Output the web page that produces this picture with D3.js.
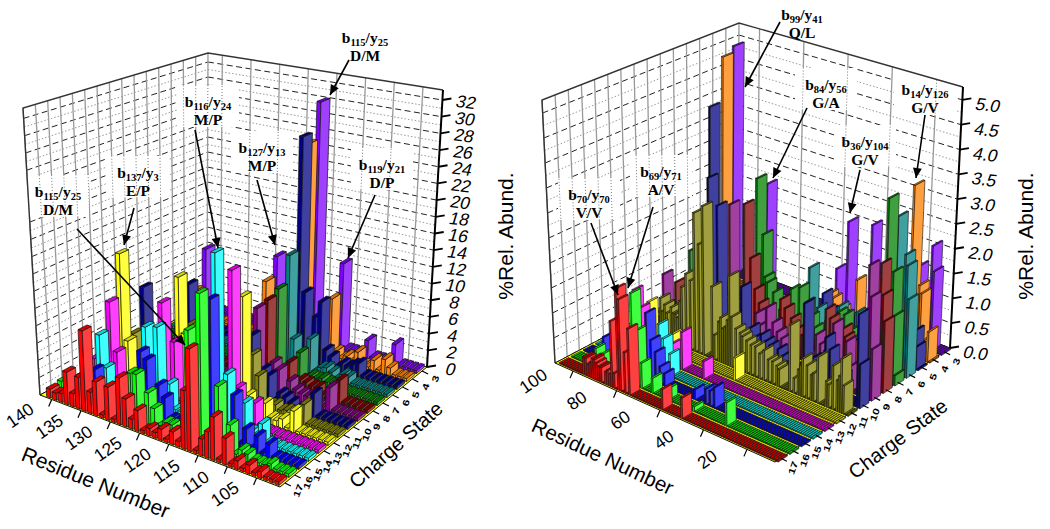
<!DOCTYPE html>
<html>
<head>
<meta charset="utf-8">
<style>
  html, body { margin: 0; padding: 0; background: #fff; }
  svg { display: block; }
</style>
<script src="https://cdn.jsdelivr.net/npm/d3@7"></script>
</head>
<body>
<svg id="chart" width="1050" height="529"></svg>
<script>
// charge states, front row first
var chargeStates = [17,16,15,14,13,12,11,10,9,8,7,6,5,4,3];
var rowColors = ["#ff0000","#00ff00","#0000ff","#00ffff","#ff00ff","#ffff00","#808000","#000080","#800080","#800000","#008000","#008080","#000080","#ff8000","#8000ff"];

//----------left chart values, [residue, %abund], everything else sits at the low baseline
var leftZ17 = [[141,1],[140,.8],[139,1],[138,3.7],[137,1.5],[136,3.6],[135,9.1],[134,2.4],[133,3.8],[131,3.7],[129,5.2],[128,3.1],[127,1.1],[126,2.3],[124,.8],[123,.6],[122,1.2],[120,1.4],[119,.6],[118,6.3],[117,11],[115,1.8],[114,2.8],[113,4.6],[111,2.8],[109,.9],[107,.9],[105,.7]];
var leftZ16 = [[141,1.2],[129,5],[128,5.1],[126,3.5],[125,2],[123,.9],[122,.9],[121,.6],[119,11.9],[117,16.3],[114,6.9],[112,3.2],[110,1],[109,.8],[105,.7]];
var leftZ15 = [[137,2.8],[129,6.7],[128,6],[126,3.6],[125,2.4],[117,15],[113,5.4],[111,2.2],[109,1.9],[107,1.5]];
var leftZ14 = [[138,5.9],[137,2.3],[130,8.6],[128,9],[126,3],[118,19.3],[116,6.3],[113,3.8],[112,.9],[111,.7],[110,2.2]];
var leftZ13 = [[141,1.7],[138,9.1],[137,3.4],[129,10.9],[127,6.8],[117,16.9],[116,4],[115,1.1],[114,.7],[113,3],[112,.8]];
var leftZ12 = [[138,14.2],[137,4],[128,13.4],[127,7],[117,13.3],[116,2.4],[115,.9],[114,1],[113,2.2],[112,.8],[111,.7],[110,1.1],[108,2.4]];
var leftZ11 = [[138,3.9],[128,7.1],[117,6],[116,3.8],[114,1],[113,1.2],[112,.8],[111,1],[108,2.3]];
var leftZ10 = [[138,8.8],[130,10.8],[119,7],[117,3.5],[116,3],[114,1.4],[113,1.2],[112,.8],[108,2.7]];
var leftZ9 = [[120,9.2],[117,3.5],[116,2.9],[114,2],[113,1.2],[112,1],[111,.9],[107,2.7]];
var leftZ8 = [[120,9.4],[116,2.9],[114,1.3],[113,1.2],[112,1],[111,1],[107,2.7]];
var leftZ7 = [[120,10],[116,3.2],[114,.9],[113,.8],[112,1],[111,.8],[110,.8]];
var leftZ6 = [[120,13.3],[119,3.4],[116,4],[114,1],[113,1.2],[112,.9],[110,1],[109,.9]];
var leftZ5 = [[120,27],[119,8.2],[117,5.6],[116,7.6],[115,2],[114,1.4],[112,1],[111,.9],[110,1.3],[109,1.6]];
var leftZ4 = [[141,3.3],[128,7.1],[121,25.4],[116,7.2],[115,1],[113,.8],[111,1.7],[108,1.3],[106,1.8],[105,1]];
var leftZ3 = [[141,8],[128,9.5],[121,30],[116,10.7],[111,2.2],[106,2.7]];
var leftRows = [leftZ17,leftZ16,leftZ15,leftZ14,leftZ13,leftZ12,leftZ11,leftZ10,leftZ9,leftZ8,leftZ7,leftZ6,leftZ5,leftZ4,leftZ3];
var leftResidues = d3.range(141, 101, -1);
var leftResidueTicks = [140,135,130,125,120,115,110,105];
var leftAbundTicks = d3.range(0, 33, 2);

//----------right chart values
var rightZ17 = [[97,.35],[96,.35],[95,.25],[94,.3],[93,.4],[92,.4],[91,.35],[90,.3],[89,.3],[87,.25],[86,.3],[85,.25],[84,1.3],[83,.3],[81,2],[80,1.8],[78,.8],[76,1.3],[61,.4],[52,.4]];
var rightZ16 = [[97,.4],[95,.3],[80,1.8],[78,1.1],[76,.5],[71,.3],[64,.22],[52,.1],[37,.45]];
var rightZ15 = [[99,.45],[79,1.3],[77,.8],[75,.6],[73,.35],[71,.25],[57,.2],[52,.3],[50,.3],[48,.4]];
var rightZ14 = [[79,.95],[77,.7],[74,.45]];
var rightZ13 = [[96,1.2],[93,.9],[79,.42],[74,.75],[64,.35]];
var rightZ12 = [[95,.85],[84,.4],[55,.45]];
var rightZ11 = [[95,.8],[94,.55],[93,.7],[92,.55],[90,.7],[89,.6],[88,.6],[87,.55],[86,.9],[85,1.2],[83,1.5],[81,1.4],[79,2.8],[77,2.2],[75,3],[71,1.45],[70,.5],[68,.8],[67,.9],[66,.7],[65,.75],[64,.9],[63,1.8],[62,1],[60,.8],[58,.75],[57,.7],[55,.65],[53,.6],[51,.6],[49,.5],[47,.6],[45,.45],[43,.45],[41,.4],[40,.35],[35,1.3],[33,.3],[31,.5],[30,.6],[29,.75],[27,.65],[25,.5],[24,.55],[22,.9],[18,.5],[17,.45],[15,.85],[13,.6],[12,.7],[11,1.05],[10,.55]];
var rightZ10 = [[78,3.4],[74,2.9],[63,1.45],[59,.7],[58,.5],[54,.65],[52,.55],[50,.5],[46,.5],[44,.4],[41,.35],[34,1.6],[30,.6],[28,.55],[27,.5],[24,1.1],[22,.9],[19,.4],[16,.5],[9,1.8],[8,.85]];
var rightZ9 = [[105,.85],[74,2.8],[62,.8],[60,.6],[57,1],[54,.75],[52,.6],[50,.5],[38,.4],[34,.85],[32,.7],[30,.6],[28,.7],[26,1.2],[23,.5],[20,.95],[18,.5],[10,2.6],[9,2],[8,1]];
var rightZ8 = [[105,.55],[73,2.7],[70,1.65],[68,1.05],[66,.8],[64,.7],[60,.5],[56,1.05],[54,.9],[51,.75],[48,.6],[46,.5],[40,.5],[35,1.2],[33,1.05],[31,.7],[29,.6],[27,.95],[26,.8],[24,.7],[10,2.5],[9,1.9],[8,1.4]];
var rightZ7 = [[104,1.1],[73,3.1],[70,2],[69,1.15],[68,1.05],[65,.9],[62,.6],[60,.6],[57,1.1],[53,1.2],[50,.95],[48,.7],[46,.5],[40,.6],[35,1],[32,1],[30,.7],[28,.6],[24,.6],[13,3.6],[10,2.2],[9,1.35],[8,.2]];
var rightZ6 = [[54,1.45],[50,.7],[46,.5],[40,.9],[38,.7],[32,.9],[30,.8],[28,.6],[14,3.1],[10,2.4],[9,2.2],[8,1.55]];
var rightZ5 = [[106,3.85],[60,.5],[53,.8],[50,.5],[45,.5],[38,.6],[10,.75],[9,.45]];
var rightZ4 = [[106,4.8],[56,.6],[54,.55],[50,.4],[43,1.1],[40,.5],[18,3.4],[14,1.45],[13,1.3],[11,.4],[9,.6]];
var rightZ3 = [[107,4.9],[91,2.2],[58,.95],[53,2],[42,2.1],[20,1.6],[14,2.1],[13,1.6]];
var rightRows = [rightZ17,rightZ16,rightZ15,rightZ14,rightZ13,rightZ12,rightZ11,rightZ10,rightZ9,rightZ8,rightZ7,rightZ6,rightZ5,rightZ4,rightZ3];
var rightResidues = d3.range(108, 7, -1);
var rightResidueTicks = [100,80,60,40,20];
var rightAbundTicks = d3.range(0, 5.01, .5);

//----------annotations
var leftNotes = [
  {b:"115", y:"25", pair:"D/M", at:[365,38], from:[349,60], to:[330,95]},
  {b:"116", y:"24", pair:"M/P", at:[208,102], from:[195,130], to:[218,248]},
  {b:"127", y:"13", pair:"M/P", at:[262,148], from:[257,180], to:[275,245]},
  {b:"137", y:"3", pair:"E/P", at:[138,173], from:[134,208], to:[124,245]},
  {b:"115", y:"25", pair:"D/M", at:[58,192], from:[77,229], to:[185,345]},
  {b:"119", y:"21", pair:"D/P", at:[382,165], from:[375,195], to:[348,258]}
];
var rightNotes = [
  {b:"99", y:"41", pair:"Q/L", at:[802,15], from:[780,22], to:[745,87]},
  {b:"84", y:"56", pair:"G/A", at:[826,85], from:[807,108], to:[773,178]},
  {b:"36", y:"104", pair:"G/V", at:[865,142], from:[860,170], to:[850,213]},
  {b:"14", y:"126", pair:"G/V", at:[925,90], from:[925,115], to:[916,178]},
  {b:"69", y:"71", pair:"A/V", at:[661,172], from:[653,207], to:[628,288]},
  {b:"70", y:"70", pair:"V/V", at:[589,195], from:[591,223], to:[618,295]}
];

var svg = d3.select("#chart");
var defs = svg.append("defs");
var sansFont = "'Liberation Sans', Arial, sans-serif";
var serifFont = "'Liberation Serif', 'Times New Roman', serif";

//bilinear lookup inside a 4 corner quad, corners are s0t0, s1t0, s1t1, s0t1
function quadPoint(c, s, t) {
  var ax = c[0][0] + (c[1][0]-c[0][0])*s, ay = c[0][1] + (c[1][1]-c[0][1])*s;
  var bx = c[3][0] + (c[2][0]-c[3][0])*s, by = c[3][1] + (c[2][1]-c[3][1])*s;
  return [ax + (bx-ax)*t, ay + (by-ay)*t];
}

function lighter(c) {
  return d3.interpolateRgb(c, "#ffffff")(0.25);
}
function topColor(c) {
  return d3.rgb(c).darker(0.45).formatHex();
}
function pathOf(pts) {
  return "M" + pts.map(function(p){ return p[0].toFixed(2)+","+p[1].toFixed(2); }).join("L") + "Z";
}

function drawChart(cfg) {
  var g = svg.append("g");
  var sScale = d3.scaleLinear().domain(cfg.residueDomain).range([0,1]);
  var tScale = d3.scaleLinear().domain([17.5,2.5]).range([0,1]);
  var zScale = d3.scaleLinear().domain([0,cfg.zMax]).range([0,1]);

  function project(r, q, z) {
    var s = sScale(r), t = tScale(q), f = quadPoint(cfg.floor, s, t), p = quadPoint(cfg.top, s, t), h = zScale(z);
    return [f[0] + (p[0]-f[0])*h, f[1] + (p[1]-f[1])*h];
  }

  var rBack = cfg.residueDomain[0], rFront = cfg.residueDomain[1];

  //walls
  g.append("path")
    .attr("d", pathOf([project(rBack,17.5,0),project(rBack,17.5,cfg.zMax),project(rBack,2.5,cfg.zMax),project(rBack,2.5,0)]))
    .attr("fill","#fff");
  g.append("path")
    .attr("d", pathOf([project(rBack,2.5,0),project(rBack,2.5,cfg.zMax),project(rFront,2.5,cfg.zMax),project(rFront,2.5,0)]))
    .attr("fill","#fff");

  var wallVerts = d3.range(0,16).map(function(i){ return [project(rBack,17.5-i,0),project(rBack,17.5-i,cfg.zMax)]; })
    .concat(cfg.residueTicks.map(function(r){ return [project(r+cfg.tickShift,2.5,0),project(r+cfg.tickShift,2.5,cfg.zMax)]; }));

  var wallZ = [];
  cfg.zTicks.forEach(function(z,i){
    wallZ.push({z:z, major:true});
    if (i < cfg.zTicks.length-1) wallZ.push({z:(z+cfg.zTicks[i+1])/2, major:false});
  });

  function zLines(sel, a, b) {
    sel.selectAll("line").data(wallZ).join("line")
      .attr("x1",function(d){ return a(d.z)[0]; }).attr("y1",function(d){ return a(d.z)[1]; })
      .attr("x2",function(d){ return b(d.z)[0]; }).attr("y2",function(d){ return b(d.z)[1]; })
      .attr("stroke",function(d){ return d.major ? "#222" : "#999"; })
      .attr("stroke-width",1)
      .attr("stroke-dasharray",function(d){ return d.major ? "6,3.5" : "1.5,2"; });
  }
  zLines(g.append("g"), function(z){ return project(rBack,17.5,z); }, function(z){ return project(rBack,2.5,z); });
  zLines(g.append("g"), function(z){ return project(rBack,2.5,z); }, function(z){ return project(rFront,2.5,z); });

  g.append("g").selectAll("line").data(wallVerts).join("line")
    .attr("x1",function(d){ return d[0][0]; }).attr("y1",function(d){ return d[0][1]; })
    .attr("x2",function(d){ return d[1][0]; }).attr("y2",function(d){ return d[1][1]; })
    .attr("stroke","#999").attr("stroke-width",1.3);

  //label patches knock the grid out, only a dotted ghost of the verticals stays
  var clipId = "clip-" + cfg.id;
  var boxes = cfg.notes.map(function(n){ return {x:n.at[0]-31, y:n.at[1]-17, w:62, h:42}; });
  defs.append("clipPath").attr("id",clipId).selectAll("rect").data(boxes).join("rect")
    .attr("x",function(d){ return d.x; }).attr("y",function(d){ return d.y; })
    .attr("width",function(d){ return d.w; }).attr("height",function(d){ return d.h; });
  g.append("g").selectAll("rect").data(boxes).join("rect")
    .attr("x",function(d){ return d.x; }).attr("y",function(d){ return d.y; })
    .attr("width",function(d){ return d.w; }).attr("height",function(d){ return d.h; })
    .attr("fill","#fff");
  g.append("g").attr("clip-path","url(#"+clipId+")").selectAll("line").data(wallVerts).join("line")
    .attr("x1",function(d){ return d[0][0]; }).attr("y1",function(d){ return d[0][1]; })
    .attr("x2",function(d){ return d[1][0]; }).attr("y2",function(d){ return d[1][1]; })
    .attr("stroke","#777").attr("stroke-width",1).attr("stroke-dasharray","1,2");

  //wall outline
  g.append("path")
    .attr("d","M"+[project(rBack,17.5,0),project(rBack,17.5,cfg.zMax),project(rBack,2.5,cfg.zMax),project(rFront,2.5,cfg.zMax)].map(function(p){return p.join(",");}).join("L"))
    .attr("fill","none").attr("stroke","#333").attr("stroke-width",1.4);

  //floor
  g.append("path")
    .attr("d", pathOf([project(rBack,17.5,0),project(rFront,17.5,0),project(rFront,2.5,0),project(rBack,2.5,0)]))
    .attr("fill","#ffff00").attr("stroke","#111").attr("stroke-width",1);

  //bars, far row first and far residue first so the nearer ones cover them
  var faces = [];
  chargeStates.slice().reverse().forEach(function(q){
    var k = chargeStates.indexOf(q);
    var vals = new Map(cfg.rows[k]);
    var col = rowColors[k];
    cfg.residues.forEach(function(r){
      var v = vals.has(r) ? vals.get(r) : cfg.baseline;
      var r0 = r + cfg.barShift - cfg.barWidth/2, r1 = r + cfg.barShift + cfg.barWidth/2;
      var q0 = q + cfg.barDepth/2, q1 = q - cfg.barDepth/2;
      faces.push({d:pathOf([project(r1,q0,0),project(r0,q0,0),project(r0,q0,v),project(r1,q0,v)]), fill:col});
      faces.push({d:pathOf([project(r0,q0,0),project(r0,q1,0),project(r0,q1,v),project(r0,q0,v)]), fill:lighter(col)});
      faces.push({d:pathOf([project(r1,q0,v),project(r0,q0,v),project(r0,q1,v),project(r1,q1,v)]), fill:topColor(col)});
    });
  });
  g.append("g").selectAll("path").data(faces).join("path")
    .attr("d",function(d){ return d.d; })
    .attr("fill",function(d){ return d.fill; })
    .attr("stroke","#111").attr("stroke-width",cfg.barStroke).attr("stroke-linejoin","round");

  //abundance axis on the right hand corner
  g.append("line")
    .attr("x1",project(rFront,2.5,0)[0]).attr("y1",project(rFront,2.5,0)[1])
    .attr("x2",project(rFront,2.5,cfg.zMax)[0]).attr("y2",project(rFront,2.5,cfg.zMax)[1])
    .attr("stroke","#000").attr("stroke-width",2);
  var zAxis = g.append("g").selectAll("g").data(cfg.zTicks).join("g")
    .attr("transform",function(z){ var p = project(rFront,2.5,z); return "translate("+p[0]+","+p[1]+")"; });
  zAxis.append("line").attr("x1",0).attr("y1",0).attr("x2",9).attr("y2",-1.5).attr("stroke","#000").attr("stroke-width",1.8);
  zAxis.append("text")
    .attr("transform","translate("+cfg.zLabelDx+","+cfg.zLabelDy+") rotate(7) skewX(-10)")
    .attr("text-anchor","middle")
    .attr("font-family",sansFont).attr("font-size",17.5).attr("fill","#000")
    .text(cfg.zFormat);

  //residue axis
  var rAxis = g.append("g").selectAll("g").data(cfg.residueTicks).join("g")
    .attr("transform",function(r){ var p = project(r,17.5,0); return "translate("+p[0]+","+p[1]+")"; });
  rAxis.append("line").attr("x1",0).attr("y1",0).attr("x2",-3).attr("y2",7).attr("stroke","#000").attr("stroke-width",1.2);
  rAxis.append("text")
    .attr("transform","translate("+cfg.rLabelDx+","+cfg.rLabelDy+") rotate(-35)")
    .attr("text-anchor","middle").attr("dominant-baseline","middle")
    .attr("font-family",sansFont).attr("font-size",17.5).attr("fill","#000")
    .text(function(r){ return r; });

  //charge axis
  var qAxis = g.append("g").selectAll("g").data(chargeStates).join("g")
    .attr("transform",function(q){ var p = project(rFront,q,0); return "translate("+p[0]+","+p[1]+")"; });
  qAxis.append("line").attr("x1",0).attr("y1",0).attr("x2",6).attr("y2",3).attr("stroke","#000").attr("stroke-width",1.2);
  qAxis.append("text")
    .attr("transform","translate("+cfg.qLabelDx+","+cfg.qLabelDy+") rotate(-70) scale(1,.75)")
    .attr("text-anchor","middle").attr("dominant-baseline","middle")
    .attr("font-family",sansFont).attr("font-size",12).attr("font-weight","bold").attr("fill","#000")
    .text(function(q){ return q; });

  //axis titles
  g.selectAll("text.title").data(cfg.titles).join("text").attr("class","title")
    .attr("transform",function(d){ return "translate("+d.x+","+d.y+") rotate("+d.angle+")"; })
    .attr("text-anchor","middle").attr("dominant-baseline","middle")
    .attr("font-family",sansFont).attr("font-size",function(d){ return d.size; }).attr("fill","#000")
    .text(function(d){ return d.text; });

  //arrows
  var arrows = g.append("g").selectAll("g").data(cfg.notes).join("g");
  arrows.append("line")
    .attr("x1",function(d){ return d.from[0]; }).attr("y1",function(d){ return d.from[1]; })
    .attr("x2",function(d){ return d.to[0]; }).attr("y2",function(d){ return d.to[1]; })
    .attr("stroke","#000").attr("stroke-width",1.6);
  arrows.append("path")
    .attr("d",function(d){
      var a = Math.atan2(d.to[1]-d.from[1], d.to[0]-d.from[0]), l = 10, w = 4.5;
      var bx = d.to[0]-l*Math.cos(a), by = d.to[1]-l*Math.sin(a);
      return pathOf([d.to,[bx-w*Math.sin(a),by+w*Math.cos(a)],[bx+w*Math.sin(a),by-w*Math.cos(a)]]);
    })
    .attr("fill","#000");

  //annotation text
  var notes = g.append("g").selectAll("g").data(cfg.notes).join("g")
    .attr("transform",function(d){ return "translate("+d.at[0]+","+d.at[1]+")"; })
    .attr("font-family",serifFont).attr("font-weight","bold").attr("fill","#000").attr("text-anchor","middle");
  var top = notes.append("text").attr("y",5).attr("font-size",15.5);
  top.append("tspan").text("b");
  top.append("tspan").attr("font-size",10.5).attr("dy",3).text(function(d){ return d.b; });
  top.append("tspan").attr("dy",-3).text("/y");
  top.append("tspan").attr("font-size",10.5).attr("dy",3).text(function(d){ return d.y; });
  notes.append("text").attr("y",23).attr("font-size",15.5).text(function(d){ return d.pair; });
}

//-------draw both panels--------
drawChart({
  id:"left", rows:leftRows, residues:leftResidues, residueTicks:leftResidueTicks, zTicks:leftAbundTicks, notes:leftNotes,
  residueDomain:[142,101], zMax:33.2, baseline:.35, tickShift:-.5, barShift:-.3, barWidth:.7, barDepth:.8, barStroke:.7,
  floor:[[40,395],[280,487],[427,367],[207,302]], top:[[23,108],[282,162],[443,90],[208,53]],
  zFormat:function(z){ return z; }, zLabelDx:22, zLabelDy:8, rLabelDx:-31, rLabelDy:17, qLabelDx:14, qLabelDy:8,
  titles:[
    {text:"Residue Number", x:95, y:484, angle:22, size:21},
    {text:"Charge State", x:397, y:446, angle:-42, size:20},
    {text:"%Rel. Abund.", x:507, y:236, angle:-90, size:21}
  ]
});
drawChart({
  id:"right", rows:rightRows, residues:rightResidues, residueTicks:rightResidueTicks, zTicks:rightAbundTicks, notes:rightNotes,
  residueDomain:[108.3,7.1], zMax:5.26, baseline:.02, tickShift:-1, barShift:-1.4, barWidth:.8, barDepth:.78, barStroke:.6,
  floor:[[555,363],[775,462],[950,348],[737,267]], top:[[542,100],[774,179],[963,87],[739,23]],
  zFormat:function(z){ return z.toFixed(1); }, zLabelDx:24, zLabelDy:11, rLabelDx:-39, rLabelDy:11, qLabelDx:13, qLabelDy:10,
  titles:[
    {text:"Residue Number", x:602, y:458, angle:25, size:20.5},
    {text:"Charge State", x:899, y:440, angle:-37, size:20},
    {text:"%Rel. Abund.", x:1027, y:236, angle:-90, size:21}
  ]
});
</script>
</body>
</html>
